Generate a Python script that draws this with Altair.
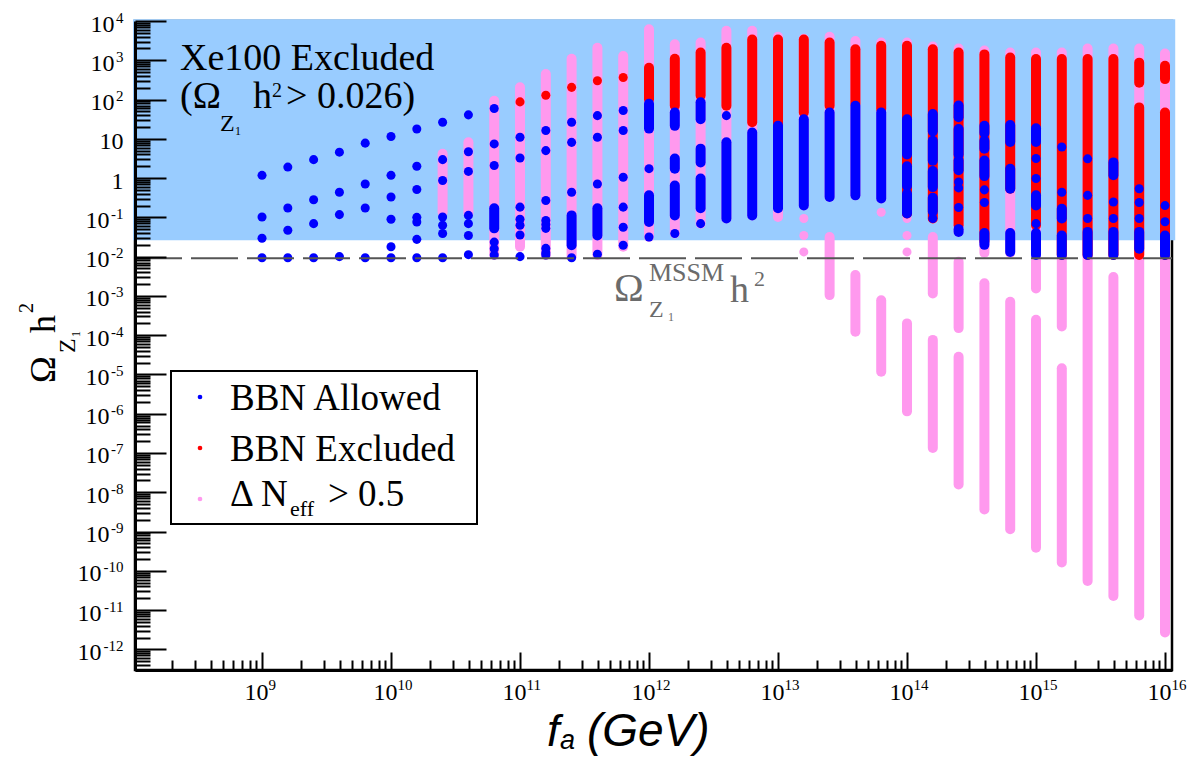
import altair as alt
import pandas as pd

# ---------------- data ----------------
# log10(f_a / GeV) of each scanned column
FA_LOG = [9.0, 9.2, 9.4, 9.6, 9.8, 10.0, 10.2, 10.4, 10.6, 10.8,
          11.0, 11.2, 11.4, 11.6, 11.8, 12.0, 12.2, 12.4, 12.6, 12.8,
          13.0, 13.2, 13.4, 13.6, 13.8, 14.0, 14.2, 14.4, 14.6, 14.8,
          15.0, 15.2, 15.4, 15.6, 15.8, 16.0]

# (column index, log10 Omega h^2) for isolated points
BLUE_DOTS = [
    (0, 0.07), (0, -0.99), (0, -1.53), (0, -2.03),
    (1, 0.28), (1, -0.76), (1, -1.33), (1, -2.03),
    (2, 0.47), (2, -0.55), (2, -1.16), (2, -2.03),
    (3, 0.66), (3, -0.36), (3, -0.93), (3, -2.0),
    (4, 0.89), (4, -0.15), (4, -0.76), (4, -2.03),
    (5, 1.06), (5, 0.07), (5, -0.48), (5, -1.05), (5, -1.75), (5, -2.03),
    (6, 1.25), (6, 0.30), (6, -0.29), (6, -1.0), (6, -1.12), (6, -1.56), (6, -2.03),
    (7, 1.42), (7, 0.47), (7, -0.06), (7, -0.99), (7, -1.2), (7, -1.41), (7, -2.03),
    (8, 1.61), (8, 0.67), (8, 0.17), (8, -0.95), (8, -1.16), (8, -1.46), (8, -1.95),
    (9, 1.77), (9, 0.87), (9, 0.32), (9, -1.63), (9, -1.8), (9, -1.96),
    (10, 1.04), (10, 0.51), (10, -0.74), (10, -1.05), (10, -1.2), (10, -1.45), (10, -2.0),
    (11, 1.21), (11, 0.70), (11, -0.57), (11, -1.08), (11, -1.18), (11, -1.28),
    (11, -1.79), (11, -1.9), (11, -1.96),
    (12, 1.42), (12, 0.91), (12, -0.36), (12, -2.03),
    (13, 1.59), (13, 1.04), (13, -0.15), (13, -1.94),
    (14, 1.72), (14, 1.21), (14, 0.02), (14, -0.74), (14, -1.25), (14, -1.71),
    (15, 0.24), (15, -1.5),
    (16, -1.41),
    (17, -1.16),
    (18, 1.59),
    (26, -1.03),
    (27, -0.1), (27, -0.25), (27, -0.75), (27, -1.3),
    (28, -0.3), (28, -0.62),
    (30, 0.5), (30, -0.01), (30, -1.16),
    (31, 0.79), (31, -0.36),
    (32, 0.49), (32, -0.44), (32, -1.03),
    (33, -0.61), (33, -1.03),
    (34, -0.27), (34, -0.62), (34, -1.03),
    (35, -0.7), (35, -1.11),
]

# (column index, lowest log10, highest log10) for densely filled stretches
BLUE_RUNS = [
    (9, -1.28, -0.77), (12, -1.71, -0.95), (13, -1.46, -0.77),
    (15, 1.26, 1.89), (15, -1.12, -0.44),
    (16, 1.33, 1.67), (16, 0.24, 0.5), (16, -0.95, -0.19),
    (17, 1.5, 1.93), (17, 0.4, 0.75), (17, -0.77, -0.01),
    (18, -1.03, 0.91), (19, -0.95, 1.16), (20, -0.77, 1.33),
    (21, -0.7, 1.5), (22, -0.48, 1.67), (23, -0.44, 1.84), (24, -0.52, 1.67),
    (25, 0.6, 1.5), (25, -0.2, 0.3), (25, -0.9, -0.4),
    (26, 1.19, 1.63), (26, 0.44, 0.95), (26, -0.23, 0.18), (26, -0.85, -0.5),
    (27, 1.55, 1.85), (27, 0.6, 1.25), (27, 0.2, 0.45), (27, -1.37, -1.3),
    (28, 1.15, 1.33), (28, 0.75, 0.95), (28, 0.05, 0.45), (28, -1.7, -1.4),
    (29, 0.92, 1.35), (29, -0.27, 0.24), (29, -1.88, -1.4),
    (30, 0.92, 1.27), (30, -0.7, -0.44), (30, -1.96, -1.4),
    (31, -1.03, -0.78), (31, -1.96, -1.46),
    (32, -1.96, -1.37),
    (33, 0.07, 0.4), (33, -1.96, -1.37),
    (34, -1.8, -1.37),
    (35, -1.96, -1.46),
]

RED_DOTS = [(10, 1.94), (11, 2.11), (12, 2.31), (13, 2.48), (14, 2.56)]

RED_RUNS = [
    (15, 2.01, 2.81), (16, 1.84, 3.04), (17, 2.1, 3.2), (18, 1.84, 3.32),
    (19, 1.42, 3.53), (20, 1.33, 3.53), (21, 1.67, 3.53), (22, 1.84, 3.45),
    (23, 1.89, 3.28), (24, 1.76, 3.37), (25, -0.9, 3.37), (26, -1.03, 3.28),
    (27, -1.2, 3.2), (28, -1.6, 3.15), (29, -0.27, 3.07), (30, -1.2, 3.03),
    (31, -1.96, 3.03), (32, -1.96, 3.03), (33, -1.96, 3.03),
    (34, 2.43, 2.94), (34, -1.96, 1.8),
    (35, 2.52, 2.86), (35, -1.96, 1.67),
]

PINK_DOTS = [(21, -1.03), (21, -1.46), (21, -1.88), (24, -0.87),
             (25, -1.03), (25, -1.46), (25, -1.88)]

PINK_RUNS = [
    (7, -0.87, 0.62), (8, -0.9, 0.91), (9, -1.96, 1.97), (10, -1.75, 2.31),
    (11, -1.96, 2.65), (12, -2.0, 3.04), (13, -1.96, 3.32), (14, -1.75, 3.11),
    (15, -1.5, 3.79), (16, -1.41, 3.41), (17, -1.16, 3.45), (18, -1.03, 3.75),
    (19, -0.95, 3.75), (20, -0.99, 3.6), (21, -0.7, 3.55),
    (22, -0.48, 3.6), (22, -2.98, -1.5),
    (23, -0.44, 3.49), (23, -3.91, -2.47),
    (24, -0.52, 3.45), (24, -4.93, -3.11),
    (25, -0.9, 3.45), (25, -5.94, -3.7),
    (26, -1.03, 3.35), (26, -2.94, -1.5), (26, -6.87, -4.12),
    (27, -1.37, 3.3), (27, -3.82, -2.13), (27, -7.8, -4.55),
    (28, -1.9, 3.25), (28, -8.44, -2.68),
    (29, -1.9, 3.2), (29, -8.94, -3.15),
    (30, -1.96, 3.2), (30, -2.81, -2.09), (30, -9.41, -3.61),
    (31, -3.78, 3.2), (31, -9.79, -4.84),
    (32, -10.26, 3.3),
    (33, -1.96, 3.3), (33, -10.64, -2.52),
    (34, -11.14, 3.3),
    (35, -11.57, 3.17),
]

XE100_LIMIT = 0.026
XE100_TOP = 1.1e4
OMEGA_MSSM = 0.0091

# tick values and label pieces ("10" + superscript exponent)
X_MAJOR = [1e9, 1e10, 1e11, 1e12, 1e13, 1e14, 1e15, 1e16]
X_EXPONENTS = ["9", "10", "11", "12", "13", "14", "15", "16"]
Y_PLAIN = [1.0, 10.0]
Y_PLAIN_LABELS = ["1", "10"]
Y_EXP1 = [1e2, 1e3, 1e4]
Y_EXP2 = [1e-9, 1e-8, 1e-7, 1e-6, 1e-5, 1e-4, 1e-3, 1e-2, 1e-1]
Y_EXP3 = [1e-12, 1e-11, 1e-10]
Y_MAJOR = Y_EXP3 + Y_EXP2 + Y_PLAIN + Y_EXP1
Y_EXPONENTS = ["-12", "-11", "-10", "-9", "-8", "-7", "-6", "-5", "-4",
               "-3", "-2", "-1", "", "", "2", "3", "4"]

LEGEND_LABELS = ["BBN Allowed", "BBN Excluded"]

# ---------------- layout / style ----------------
PL, PT = 135, 21
W, H = 1037, 649
X_DOMAIN = [1.036e8, 1.133e16]
Y_DOMAIN = [2.98e-13, 1e4]
XS = alt.Scale(type="log", domain=X_DOMAIN, nice=False)
YS = alt.Scale(type="log", domain=Y_DOMAIN, nice=False)
SERIF = "Liberation Serif"
SANS = "Liberation Sans"
BLUE, RED, PINK, SHADE = "#0000FF", "#FF0000", "#FF99EE", "#99CCFF"
BASE_SIZE, EXP_SIZE = 24, 15

X_MINOR = [m * 10.0 ** e for e in range(8, 16) for m in range(2, 10)]
X_MINOR = [v for v in X_MINOR if X_DOMAIN[0] < v < X_DOMAIN[1]]
Y_MINOR = [m * 10.0 ** e for e in range(-13, 4) for m in range(2, 10)]
Y_MINOR = [v for v in Y_MINOR if Y_DOMAIN[0] < v < Y_DOMAIN[1]]


def tick_axis_x(values, size):
    return alt.Axis(orient="top", offset=-H, values=values, tickSize=size,
                    tickWidth=2, tickColor="black", labels=False, domain=False,
                    grid=False, title=None, zindex=2)


def tick_axis_y(values, size):
    return alt.Axis(orient="right", offset=-W, values=values, tickSize=size,
                    tickWidth=2, tickColor="black", labels=False, domain=False,
                    grid=False, title=None, zindex=2)


def js_list(items):
    return "[" + ",".join("'" + s + "'" for s in items) + "]"


def label_axis(orient, values, expr, size, padding, align, baseline,
               offset=0, domain=False):
    kw = dict(orient=orient, values=values, ticks=False, tickSize=0,
              domain=domain, grid=False, title=None, labelExpr=expr,
              labelFont=SERIF, labelFontSize=size, labelColor="black",
              labelPadding=padding, labelAlign=align, labelBaseline=baseline,
              labelFlush=False, labelOverlap=False, labelBound=False, zindex=2)
    if domain:
        kw.update(domainColor="black", domainWidth=3)
    if offset:
        kw["labelOffset"] = offset
    return alt.Axis(**kw)


X_BASE_AXIS = label_axis("bottom", X_MAJOR, "'10'", BASE_SIZE, 10, "center", "top",
                         offset=-6, domain=True)
X_EXP_AXIS = label_axis("bottom", X_MAJOR,
                        js_list(X_EXPONENTS) + "[round(log(datum.value)/LN10) - 9]",
                        EXP_SIZE, 7, "left", "top", offset=6)
Y_PLAIN_AXIS = label_axis("left", Y_PLAIN,
                          js_list(Y_PLAIN_LABELS) + "[round(log(datum.value)/LN10)]",
                          BASE_SIZE, 12, "right", "middle", offset=3, domain=True)
Y_E1_AXIS = label_axis("left", Y_EXP1, "'10'", BASE_SIZE, 21, "right", "middle", offset=3)
Y_E2_AXIS = label_axis("left", Y_EXP2, "'10'", BASE_SIZE, 26, "right", "middle", offset=3)
Y_E3_AXIS = label_axis("left", Y_EXP3, "'10'", BASE_SIZE, 34, "right", "middle", offset=3)
Y_EXP_AXIS = label_axis("left", Y_MAJOR,
                        js_list(Y_EXPONENTS) + "[round(log(datum.value)/LN10) + 12]",
                        EXP_SIZE, 12, "right", "middle", offset=-4)


def dots_frame(dots):
    return pd.DataFrame({"fa": [10 ** FA_LOG[k] for k, _ in dots],
                         "omega": [10 ** v for _, v in dots]})


def runs_frame(runs):
    return pd.DataFrame({"fa": [10 ** FA_LOG[k] for k, _, _ in runs],
                         "lo": [10 ** lo for _, lo, _ in runs],
                         "hi": [10 ** hi for _, _, hi in runs]})


def runs_layer(runs, color, xaxis=None, yaxis=None):
    return alt.Chart(runs_frame(runs)).mark_rule(
        color=color, strokeWidth=10, strokeCap="round").encode(
        x=alt.X("fa:Q", scale=XS, axis=xaxis),
        y=alt.Y("lo:Q", scale=YS, axis=yaxis),
        y2="hi:Q")


def dots_layer(dots, color, xaxis=None, yaxis=None):
    return alt.Chart(dots_frame(dots)).mark_circle(
        color=color, size=82, opacity=1).encode(
        x=alt.X("fa:Q", scale=XS, axis=xaxis),
        y=alt.Y("omega:Q", scale=YS, axis=yaxis))


ONE = pd.DataFrame({"d": [0]})


def txt(s, x, y, size, font=SERIF, color="black", angle=0, style="normal"):
    kw = dict(text=s, fontSize=size, font=font, color=color, align="left",
              baseline="alphabetic", fontStyle=style)
    if angle:
        kw["angle"] = angle
    return alt.Chart(ONE).mark_text(**kw).encode(
        x=alt.value(x - PL), y=alt.value(y - PT))


shade = alt.Chart(pd.DataFrame({"x1": [1.0e8], "x2": [1.2e16],
                                "y1": [XE100_LIMIT], "y2": [XE100_TOP]})).mark_rect(
    color=SHADE).encode(
    x=alt.X("x1:Q", scale=XS, axis=tick_axis_x(X_MINOR, 10)),
    x2="x2:Q",
    y=alt.Y("y1:Q", scale=YS, axis=tick_axis_y(Y_MINOR, 15)),
    y2="y2:Q")

mssm = alt.Chart(pd.DataFrame({"x1": [X_DOMAIN[0]], "x2": [X_DOMAIN[1]],
                               "y": [OMEGA_MSSM]})).mark_rule(
    color="#555555", strokeWidth=2, strokeDash=[47, 9]).encode(
    x=alt.X("x1:Q", scale=XS, axis=tick_axis_x(X_MAJOR, 18)),
    x2="x2:Q",
    y=alt.Y("y:Q", scale=YS, axis=tick_axis_y(Y_MAJOR, 31)))

layers = [
    shade,
    runs_layer(PINK_RUNS, PINK),
    dots_layer(PINK_DOTS, PINK, yaxis=Y_EXP_AXIS),
    runs_layer(RED_RUNS, RED, yaxis=Y_E3_AXIS),
    dots_layer(RED_DOTS, RED, yaxis=Y_E2_AXIS),
    runs_layer(BLUE_RUNS, BLUE, xaxis=X_EXP_AXIS, yaxis=Y_E1_AXIS),
    dots_layer(BLUE_DOTS, BLUE, xaxis=X_BASE_AXIS, yaxis=Y_PLAIN_AXIS),
    mssm,
]

# annotation: Xe100 excluded region
layers += [
    txt("Xe100 Excluded", 180, 70, 38),
    txt("(Ω", 180, 108, 38),
    txt("Z", 220, 131, 24),
    txt("1", 235, 135, 12),
    txt("h", 253, 108, 38),
    txt("2", 272, 97, 20),
    txt("> 0.026)", 286, 108, 38),
]

# annotation: MSSM relic density line
GRAY = "#6b6b6b"
layers += [
    txt("Ω", 614, 301, 40, color=GRAY),
    txt("MSSM", 649, 281, 26, color=GRAY),
    txt("Z", 649, 317, 24, color=GRAY),
    txt("1", 668, 321, 12, color=GRAY),
    txt("h", 730, 302, 38, color=GRAY),
    txt("2", 754, 286, 22, color=GRAY),
]

# y-axis title (rotated)
layers += [
    txt("Ω", 55, 383, 36, angle=270),
    txt("Z", 75, 353, 24, angle=270),
    txt("1", 80, 337, 12, angle=270),
    txt("h", 55, 333, 36, angle=270),
    txt("2", 33, 313, 20, angle=270),
]

# x-axis title
layers += [
    txt("f", 547, 746, 45, font=SANS, style="italic"),
    txt("a", 560, 749, 27, font=SANS, style="italic"),
    txt("(GeV)", 587, 746, 46, font=SANS, style="italic"),
]

# legend
legend_box = alt.Chart(ONE).mark_rect(fill="white", stroke="black", strokeWidth=2).encode(
    x=alt.value(171 - PL), x2=alt.value(477 - PL),
    y=alt.value(371 - PT), y2=alt.value(524 - PT))
layers.append(legend_box)
for color, ys in [(BLUE, 397), (RED, 448), (PINK, 499)]:
    layers.append(alt.Chart(ONE).mark_circle(color=color, size=22, opacity=1).encode(
        x=alt.value(200 - PL), y=alt.value(ys - PT)))
layers += [
    txt(LEGEND_LABELS[0], 230, 410, 37),
    txt(LEGEND_LABELS[1], 230, 461, 37),
    txt("Δ N", 230, 506, 37),
    txt("eff", 290, 516, 22),
    txt("> 0.5", 328, 506, 37),
]

chart = alt.layer(*layers).resolve_axis(
    x="independent", y="independent"
).properties(
    width=W, height=H,
    padding={"left": PL, "top": PT, "right": 1190 - PL - W, "bottom": 757 - PT - H},
    autosize=alt.AutoSizeParams(type="none"),
    background="white",
).configure_view(stroke="black", strokeWidth=2.5)

chart.save("out.html", embed_options={"renderer": "svg", "actions": False})
